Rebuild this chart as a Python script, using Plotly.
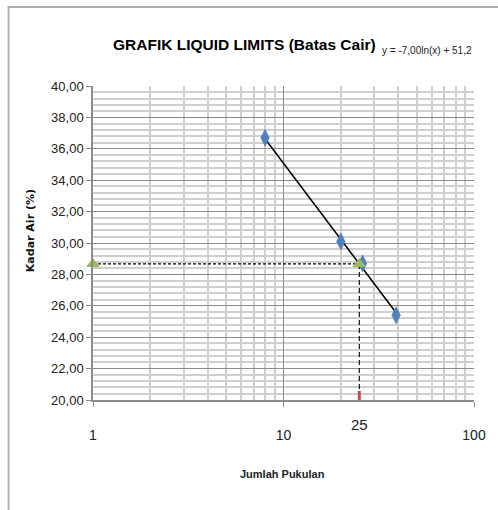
import math
import plotly.graph_objects as go

# Data
blows = [8, 20, 26, 39]
water_content = [36.7, 30.1, 28.7, 25.4]
trend_a = -7.00
trend_b = 51.2
ll_blows = 25
ll_value = 28.67
x_tick_vals = [1, 10, 100]
x_tick_text = ["1", "10", "100"]
x_minor_vals = [2, 3, 4, 5, 6, 7, 8, 9, 20, 30, 40, 50, 60, 70, 80, 90]

trend_x = [min(blows), max(blows)]
trend_y = [trend_a * math.log(v) + trend_b for v in trend_x]

FONT = "Liberation Sans, Arial"

L, R, T, B = 93, 481, 86, 400
PW, PH = R - L, B - T


def px(x):
    return (x - L) / PW


def py(y):
    return (B - y) / PH


fig = go.Figure()

# dashed helper lines
fig.add_trace(go.Scatter(x=[1, ll_blows], y=[ll_value, ll_value], mode="lines",
                         line=dict(color="black", width=1.3, dash="3px,2px"),
                         showlegend=False, hoverinfo="skip"))
fig.add_trace(go.Scatter(x=[ll_blows, ll_blows], y=[ll_value, 20], mode="lines",
                         line=dict(color="black", width=1.1, dash="5px,3px"),
                         showlegend=False, hoverinfo="skip"))
# trendline
fig.add_trace(go.Scatter(x=trend_x, y=trend_y, mode="lines",
                         line=dict(color="black", width=1.5),
                         showlegend=False, hoverinfo="skip"))
# data points
fig.add_trace(go.Scatter(x=blows, y=water_content, mode="markers",
                         marker=dict(symbol="diamond-tall", size=13, color="#4F81BD"),
                         showlegend=False))
# LL markers
fig.add_trace(go.Scatter(x=[1, ll_blows], y=[ll_value, ll_value], mode="markers",
                         marker=dict(symbol="triangle-up", size=12, color="#9BBB59"),
                         cliponaxis=False, showlegend=False))
# red marker at base
fig.add_trace(go.Scatter(x=[ll_blows], y=[20], mode="markers", xaxis="x2",
                         marker=dict(symbol="line-ns", size=13,
                                     line=dict(color="#C0504D", width=3)),
                         showlegend=False))

grid_major = "#8c8c8c"
grid_minor = "#cfcfcf"

fig.update_layout(
    width=498, height=510,
    margin=dict(l=L, r=498 - R, t=T, b=510 - B),
    paper_bgcolor="white", plot_bgcolor="white",
    separators=",.",
    font=dict(family=FONT, color="#222222"),
    xaxis=dict(type="log", range=[0, 2], tickvals=x_tick_vals, ticktext=x_tick_text,
               showgrid=True, gridcolor=grid_major, gridwidth=1,
               ticks="outside", ticklen=5, tickcolor="#8c8c8c",
               showline=True, linecolor="#8c8c8c", linewidth=1.5,
               tickfont=dict(size=14, family=FONT, color="#222222"),
               ticklabelstandoff=16,
               zeroline=False,
               minor=dict(tickvals=x_minor_vals, showgrid=True, gridcolor=grid_minor,
                          gridwidth=1.5, ticks="")),
    xaxis2=dict(type="log", range=[0, 2], overlaying="x", anchor="y", side="bottom",
                tickvals=[ll_blows], ticktext=[str(ll_blows)], showgrid=False,
                ticks="", showline=False, zeroline=False,
                tickfont=dict(size=15, family=FONT, color="#222222"),
                ticklabelstandoff=14),
    yaxis=dict(range=[20, 40], dtick=2, tickformat=".2f",
               showgrid=True, gridcolor=grid_major, gridwidth=1,
               ticks="outside", ticklen=5, tickcolor="#8c8c8c",
               showline=True, linecolor="#8c8c8c", linewidth=1.5,
               tickfont=dict(size=13, family=FONT, color="#222222"),
               zeroline=False,
               minor=dict(dtick=0.4, showgrid=True, gridcolor=grid_minor, gridwidth=1.5, ticks="")),
    annotations=[
        dict(text="<b>GRAFIK LIQUID LIMITS (Batas Cair)</b>", xref="paper", yref="paper",
             x=px(383), y=py(45), xanchor="right", yanchor="middle",
             showarrow=False, font=dict(size=15.5, family=FONT, color="#000000")),
        dict(text="y = -7,00ln(x) + 51,2", xref="paper", yref="paper",
             x=px(385), y=py(51), xanchor="left", yanchor="middle",
             showarrow=False, font=dict(size=10, family=FONT, color="#222222")),
        dict(text="<b>Kadar Air (%)</b>", xref="paper", yref="paper",
             x=px(29), y=py(231), xanchor="center", yanchor="middle", textangle=-90,
             showarrow=False, font=dict(size=11, family="DejaVu Sans", color="#111111")),
        dict(text="<b>Jumlah Pukulan</b>", xref="paper", yref="paper",
             x=px(286), y=py(474), xanchor="center", yanchor="middle",
             showarrow=False, font=dict(size=11, family=FONT, color="#222222")),
    ],
    shapes=[
        dict(type="rect", xref="paper", yref="paper",
             x0=px(7), x1=px(520), y0=py(530), y1=py(7),
             line=dict(color="#b0b0b0", width=2), fillcolor="rgba(0,0,0,0)", layer="below"),
    ],
)

fig.write_html("out.html", config={"displayModeBar": False},
               post_script="document.body.style.margin='0';")
